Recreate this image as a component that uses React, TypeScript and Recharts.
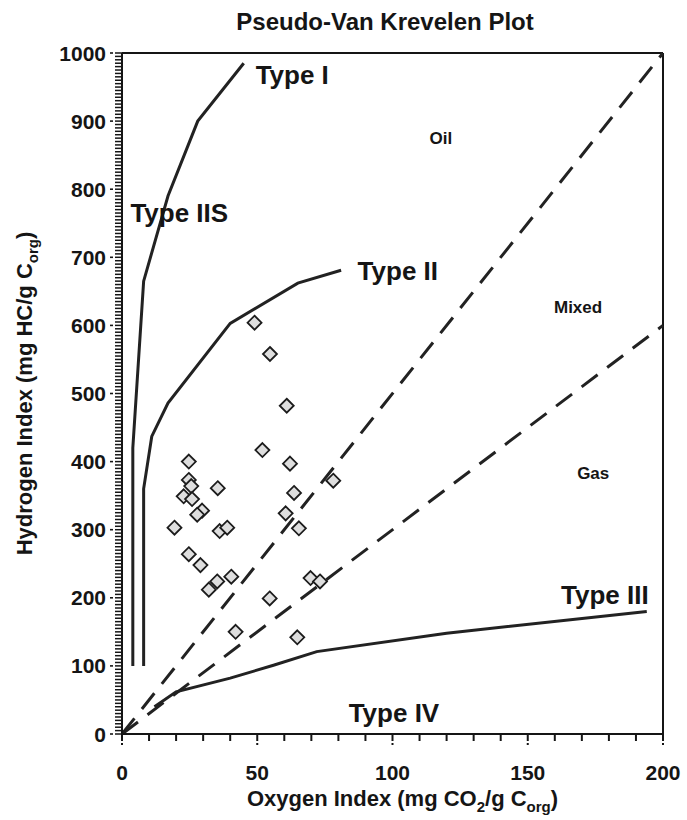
import {
  ComposedChart,
  Label,
  Line,
  ReferenceLine,
  Scatter,
  XAxis,
  YAxis,
} from 'recharts'

// sample points (OI, HI)
const samples = [
  { x: 24.7, y: 400 },
  { x: 51.9, y: 417 },
  { x: 24.7, y: 373 },
  { x: 25.6, y: 364 },
  { x: 22.8, y: 349 },
  { x: 25.9, y: 345 },
  { x: 35.4, y: 361 },
  { x: 29.6, y: 328 },
  { x: 27.8, y: 322 },
  { x: 19.4, y: 303 },
  { x: 36.1, y: 298 },
  { x: 38.9, y: 303 },
  { x: 24.7, y: 264 },
  { x: 29, y: 248 },
  { x: 35.2, y: 224 },
  { x: 32.1, y: 212 },
  { x: 40.4, y: 231 },
  { x: 54.6, y: 199 },
  { x: 42, y: 150 },
  { x: 49, y: 604 },
  { x: 54.7, y: 558 },
  { x: 60.9, y: 482 },
  { x: 62.1, y: 397 },
  { x: 78.1, y: 372 },
  { x: 63.6, y: 354 },
  { x: 60.5, y: 324 },
  { x: 65.4, y: 302 },
  { x: 69.7, y: 229 },
  { x: 73.2, y: 224 },
  { x: 64.8, y: 142 },
]

const typeI = [
  { x: 4, y: 100 },
  { x: 4, y: 420 },
  { x: 8, y: 665 },
  { x: 17, y: 790 },
  { x: 28, y: 900 },
  { x: 45, y: 985 },
]

const typeII = [
  { x: 8, y: 100 },
  { x: 8, y: 360 },
  { x: 11, y: 437 },
  { x: 17, y: 486 },
  { x: 40, y: 603 },
  { x: 65, y: 662 },
  { x: 81, y: 681 },
]

const typeIII = [
  { x: 12, y: 40 },
  { x: 20, y: 62 },
  { x: 40, y: 82 },
  { x: 56, y: 101 },
  { x: 72, y: 121 },
  { x: 120, y: 148 },
  { x: 194, y: 180 },
]

const oilLimit = [
  { x: 0, y: 0 },
  { x: 200, y: 1000 },
]

const gasLimit = [
  { x: 0, y: 0 },
  { x: 200, y: 600 },
]

const annotations = [
  { x: 49.4, y: 968, text: 'Type I', big: true, anchor: 'start' },
  { x: 3.1, y: 765, text: 'Type IIS', big: true, anchor: 'start' },
  { x: 87.1, y: 681, text: 'Type II', big: true, anchor: 'start' },
  { x: 117.9, y: 875, text: 'Oil', big: false, anchor: 'middle' },
  { x: 168.6, y: 627, text: 'Mixed', big: false, anchor: 'middle' },
  { x: 174.2, y: 383, text: 'Gas', big: false, anchor: 'middle' },
  { x: 162.3, y: 204, text: 'Type III', big: true, anchor: 'start' },
  { x: 83.8, y: 32, text: 'Type IV', big: true, anchor: 'start' },
]

const xTicks = Array.from({ length: 21 }, (_, i) => i * 10)
const yTicks = Array.from({ length: 201 }, (_, i) => i * 5)

const FONT = '"Liberation Sans", Arial, sans-serif'
const INK = '#151515'

// tick lines come from recharts; majors get a small extension + label
function YTick(props: any) {
  const { x, y, payload } = props
  if (payload.value % 100 !== 0) return <g />
  return (
    <g>
      <line x1={x} x2={x - 3} y1={y} y2={y} stroke={INK} strokeWidth={1.6} />
      <text x={x - 7} y={y} dy="0.36em" textAnchor="end" fontFamily={FONT} fontWeight="bold" fontSize={21} fill={INK}>
        {payload.value}
      </text>
    </g>
  )
}

function XTick(props: any) {
  const { x, y, payload } = props
  if (payload.value % 50 !== 0) return <g />
  return (
    <g>
      <line x1={x} x2={x} y1={y} y2={y + 2} stroke={INK} strokeWidth={2} />
      <text x={x} y={y + 37} textAnchor="middle" fontFamily={FONT} fontWeight="bold" fontSize={21} fill={INK}>
        {payload.value}
      </text>
    </g>
  )
}

function Diamond(props: any) {
  const { cx, cy } = props
  const r = 7
  return (
    <polygon
      points={`${cx},${cy - r} ${cx + r},${cy} ${cx},${cy + r} ${cx - r},${cy}`}
      fill="#dedede"
      stroke="#1c1c1c"
      strokeWidth={1.8}
    />
  )
}

function Annotation(props: any) {
  const { cx, cy, payload } = props
  return (
    <text
      x={cx}
      y={cy}
      dy="0.36em"
      textAnchor={payload.anchor}
      fontFamily={FONT}
      fontWeight="bold"
      fontSize={payload.big ? 26 : 17}
      fill={INK}
    >
      {payload.text}
    </text>
  )
}

export default function App() {
  return (
    <div style={{ position: 'absolute', left: 0, top: 0, width: 687, height: 820, background: '#fff' }}>
      <div
        style={{
          position: 'absolute',
          top: 8,
          left: 0,
          width: 770,
          textAlign: 'center',
          fontFamily: FONT,
          fontWeight: 'bold',
          fontSize: 24,
          color: INK,
        }}
      >
        Pseudo-Van Krevelen Plot
      </div>
      <ComposedChart width={687} height={820} margin={{ top: 53, right: 24, bottom: 26, left: 0 }}>
        <XAxis
          type="number"
          dataKey="x"
          domain={[0, 200]}
          ticks={xTicks}
          interval={0}
          tickSize={7}
          tickLine={{ stroke: INK, strokeWidth: 2 }}
          tick={<XTick />}
          height={60}
          axisLine={{ stroke: INK, strokeWidth: 2 }}
        >
          <Label
            content={(p: any) => {
              const vb = p.viewBox
              return (
                <text x={vb.x + vb.width / 2 + 10} y={806} textAnchor="middle" fontFamily={FONT} fontWeight="bold" fontSize={22} fill={INK}>
                  <tspan>Oxygen Index (mg CO</tspan>
                  <tspan dy={6} fontSize={15}>2</tspan>
                  <tspan dy={-6}>/g C</tspan>
                  <tspan dy={6} fontSize={15}>org</tspan>
                  <tspan dy={-6}>)</tspan>
                </text>
              )
            }}
          />
        </XAxis>
        <YAxis
          type="number"
          dataKey="y"
          domain={[0, 1000]}
          ticks={yTicks}
          interval={0}
          tickSize={7}
          tickLine={{ stroke: INK, strokeWidth: 1.5 }}
          tick={<YTick />}
          width={122}
          axisLine={{ stroke: INK, strokeWidth: 2 }}
        >
          <Label
            content={(p: any) => {
              const vb = p.viewBox
              const cx = 24
              const cy = vb.y + vb.height / 2
              return (
                <text x={cx} y={cy} transform={`rotate(-90 ${cx} ${cy})`} dy="0.36em" textAnchor="middle" fontFamily={FONT} fontWeight="bold" fontSize={22} fill={INK}>
                  <tspan>Hydrogen Index (mg HC/g C</tspan>
                  <tspan dy={6} fontSize={15}>org</tspan>
                  <tspan dy={-6}>)</tspan>
                </text>
              )
            }}
          />
        </YAxis>
        <ReferenceLine y={1000} stroke={INK} strokeWidth={2} />
        <ReferenceLine x={200} stroke={INK} strokeWidth={2} />
        <Line data={oilLimit} dataKey="y" type="linear" stroke="#222" strokeWidth={3} strokeDasharray="20 12" dot={false} isAnimationActive={false} />
        <Line data={gasLimit} dataKey="y" type="linear" stroke="#222" strokeWidth={3} strokeDasharray="20 12" dot={false} isAnimationActive={false} />
        <Line data={typeI} dataKey="y" type="linear" stroke="#222" strokeWidth={3} dot={false} isAnimationActive={false} />
        <Line data={typeII} dataKey="y" type="linear" stroke="#222" strokeWidth={3} dot={false} isAnimationActive={false} />
        <Line data={typeIII} dataKey="y" type="linear" stroke="#222" strokeWidth={3} dot={false} isAnimationActive={false} />
        <Scatter data={samples} dataKey="y" shape={<Diamond />} isAnimationActive={false} />
        <Scatter data={annotations} dataKey="y" shape={<Annotation />} isAnimationActive={false} />
      </ComposedChart>
    </div>
  )
}
